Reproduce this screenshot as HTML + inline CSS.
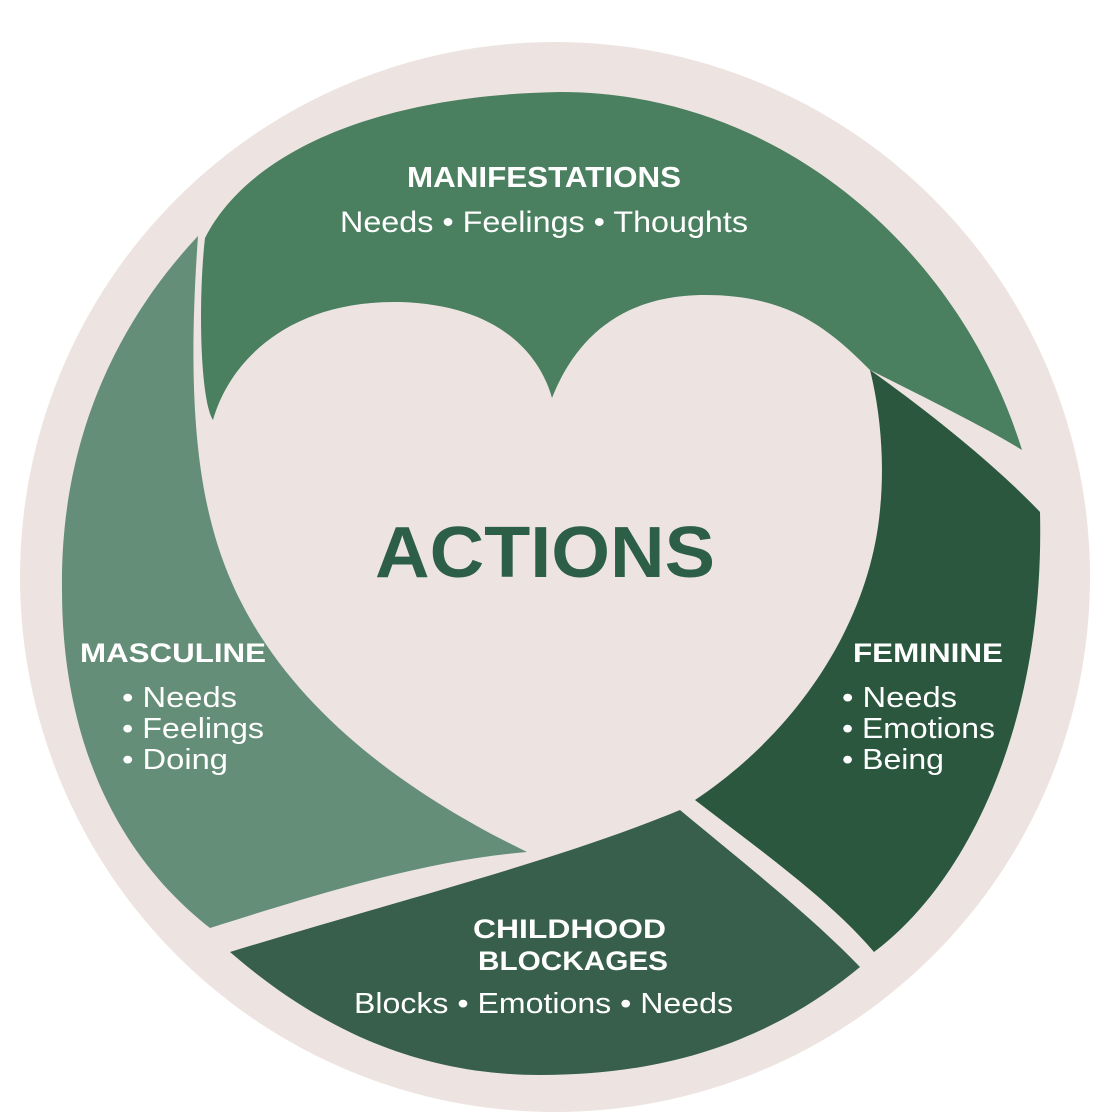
<!DOCTYPE html>
<html><head><style>
html,body{margin:0;padding:0;background:#fff;}
svg{display:block}
text{font-family:"Liberation Sans",sans-serif;fill:#fff}
</style></head><body>
<svg width="1120" height="1120" viewBox="0 0 1120 1120">
<circle cx="555" cy="577" r="535" fill="#ede4e1"/>
<path d="M205,238 C250,150 380,95 560,92 C780,92 960,250 1022,450 C990,430 930,400 870,370 C830,330 790,295 705,295 C620,295 575,340 552,398 C540,355 500,305 400,302 C290,300 230,360 213,420 C200,400 198,300 205,238 Z" fill="#4a7f5f"/>
<path d="M198,236 C110,330 60,450 62,590 C62,730 110,850 210,928 C330,890 430,860 527,852 C420,800 300,720 240,600 C200,520 185,420 198,236 Z" fill="#648e77"/>
<path d="M870,370 C940,420 1000,470 1040,512 C1045,720 970,880 874,952 C830,900 760,850 695,800 C800,730 870,620 880,510 C885,460 880,410 870,370 Z" fill="#2a573e"/>
<path d="M230,952 C400,900 560,860 680,810 C740,860 810,915 860,967 C760,1050 650,1075 540,1075 C420,1075 320,1030 230,952 Z" fill="#385f4b"/>
<text x="407" y="187" font-size="29" font-weight="bold" textLength="274" lengthAdjust="spacingAndGlyphs">MANIFESTATIONS</text>
<text x="340" y="232" font-size="30" textLength="408" lengthAdjust="spacingAndGlyphs">Needs • Feelings • Thoughts</text>
<text x="375" y="577" font-size="72" font-weight="bold" textLength="340" lengthAdjust="spacingAndGlyphs" style="fill:#2d5e46">ACTIONS</text>
<text x="80" y="662" font-size="27" font-weight="bold" textLength="186" lengthAdjust="spacingAndGlyphs">MASCULINE</text>
<text x="122" y="707" font-size="29" textLength="115" lengthAdjust="spacingAndGlyphs">• Needs</text>
<text x="122" y="738" font-size="29" textLength="142" lengthAdjust="spacingAndGlyphs">• Feelings</text>
<text x="122" y="769" font-size="29" textLength="106" lengthAdjust="spacingAndGlyphs">• Doing</text>
<text x="853" y="662" font-size="27" font-weight="bold" textLength="150" lengthAdjust="spacingAndGlyphs">FEMININE</text>
<text x="842" y="707" font-size="29" textLength="115" lengthAdjust="spacingAndGlyphs">• Needs</text>
<text x="842" y="738" font-size="29" textLength="153" lengthAdjust="spacingAndGlyphs">• Emotions</text>
<text x="842" y="769" font-size="29" textLength="102" lengthAdjust="spacingAndGlyphs">• Being</text>
<text x="473" y="938" font-size="27" font-weight="bold" textLength="193" lengthAdjust="spacingAndGlyphs">CHILDHOOD</text>
<text x="478" y="970" font-size="27" font-weight="bold" textLength="190" lengthAdjust="spacingAndGlyphs">BLOCKAGES</text>
<text x="354" y="1013" font-size="29" textLength="379" lengthAdjust="spacingAndGlyphs">Blocks • Emotions • Needs</text>
</svg>
</body></html>
